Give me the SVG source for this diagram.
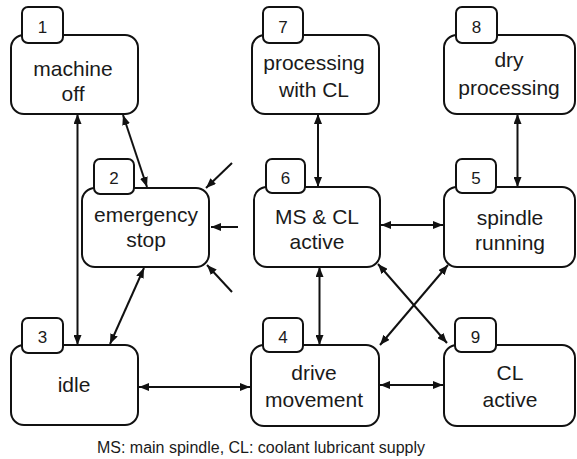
<svg xmlns="http://www.w3.org/2000/svg" width="577" height="459" viewBox="0 0 577 459">
  <defs>
    <marker id="arrow" viewBox="0 0 10 8" refX="10" refY="4" markerWidth="10" markerHeight="8" markerUnits="userSpaceOnUse" orient="auto-start-reverse">
      <path d="M0,0 L10,4 L0,8 z" fill="#111"/>
    </marker>
    <style>
      .box { fill: #fff; stroke: #111; stroke-width: 2; }
      .tab { fill: #fff; stroke: #111; stroke-width: 2; }
      .lbl { font-family: "Liberation Sans", Arial, sans-serif; font-size: 21px; fill: #1a1a1a; text-anchor: middle; }
      .num { font-family: "Liberation Sans", Arial, sans-serif; font-size: 17px; fill: #1a1a1a; text-anchor: middle; }
      .note { font-family: "Liberation Sans", Arial, sans-serif; font-size: 16px; fill: #1a1a1a; text-anchor: middle; }
      .edge { stroke: #111; stroke-width: 2; fill: none; }
      .both { marker-start: url(#arrow); marker-end: url(#arrow); }
      .one { marker-end: url(#arrow); }
    </style>
  </defs>
  <rect width="577" height="459" fill="#fff"/>

  <!-- transitions -->
  <g id="connectors">
    <line class="edge both" x1="77.5" y1="114" x2="77.5" y2="345"/>
    <line class="edge both" x1="123" y1="115" x2="147" y2="187"/>
    <line class="edge both" x1="144" y1="268" x2="110" y2="344"/>
    <line class="edge one" x1="232" y1="163" x2="206" y2="188"/>
    <line class="edge one" x1="238" y1="227" x2="211" y2="227"/>
    <line class="edge one" x1="232" y1="292" x2="207" y2="265"/>
    <line class="edge both" x1="318" y1="114" x2="318" y2="187"/>
    <line class="edge both" x1="517.5" y1="114" x2="517.5" y2="187"/>
    <line class="edge both" x1="381" y1="225" x2="443" y2="225"/>
    <line class="edge both" x1="319.5" y1="267" x2="319.5" y2="345"/>
    <line class="edge both" x1="378" y1="264" x2="447" y2="343"/>
    <line class="edge both" x1="448" y1="265" x2="380" y2="345"/>
    <line class="edge both" x1="139" y1="387" x2="250" y2="387"/>
    <line class="edge both" x1="380" y1="385" x2="443" y2="385"/>
  </g>

  <g id="n1">
    <rect class="box" x="11" y="35" width="127" height="79" rx="13"/>
    <rect class="tab" x="22" y="7" width="41" height="36" rx="6"/>
    <text class="num" x="42.5" y="33">1</text>
    <text class="lbl" x="73" y="76">machine</text>
    <text class="lbl" x="73" y="101">off</text>
  </g>
  <g id="n2">
    <rect class="box" x="82" y="188" width="127" height="79" rx="13"/>
    <rect class="tab" x="94" y="159" width="40" height="35" rx="6"/>
    <text class="num" x="114" y="184">2</text>
    <text class="lbl" x="146" y="222">emergency</text>
    <text class="lbl" x="146" y="247">stop</text>
  </g>
  <g id="n3">
    <rect class="box" x="11" y="345" width="127" height="80" rx="13"/>
    <rect class="tab" x="22" y="318" width="41" height="35" rx="6"/>
    <text class="num" x="42.5" y="343">3</text>
    <text class="lbl" x="74" y="392">idle</text>
  </g>
  <g id="n4">
    <rect class="box" x="251" y="345" width="128" height="81" rx="13"/>
    <rect class="tab" x="263" y="318" width="40" height="34" rx="6"/>
    <text class="num" x="283" y="343">4</text>
    <text class="lbl" x="314" y="380">drive</text>
    <text class="lbl" x="314" y="407">movement</text>
  </g>
  <g id="n5">
    <rect class="box" x="444" y="187" width="131" height="80" rx="13"/>
    <rect class="tab" x="456" y="159" width="40" height="34" rx="6"/>
    <text class="num" x="476" y="184">5</text>
    <text class="lbl" x="510" y="225">spindle</text>
    <text class="lbl" x="510" y="250">running</text>
  </g>
  <g id="n6">
    <rect class="box" x="254" y="187" width="126" height="80" rx="13"/>
    <rect class="tab" x="266" y="159" width="39" height="34" rx="6"/>
    <text class="num" x="285.5" y="184">6</text>
    <text class="lbl" x="317" y="224">MS &amp; CL</text>
    <text class="lbl" x="317" y="249">active</text>
  </g>
  <g id="n7">
    <rect class="box" x="252" y="35" width="127" height="79" rx="13"/>
    <rect class="tab" x="263" y="7" width="40" height="36" rx="6"/>
    <text class="num" x="283" y="33">7</text>
    <text class="lbl" x="314" y="70">processing</text>
    <text class="lbl" x="314" y="97">with CL</text>
  </g>
  <g id="n8">
    <rect class="box" x="444" y="35" width="131" height="79" rx="13"/>
    <rect class="tab" x="456" y="7" width="41" height="36" rx="6"/>
    <text class="num" x="476.5" y="33">8</text>
    <text class="lbl" x="509" y="67">dry</text>
    <text class="lbl" x="509" y="95">processing</text>
  </g>
  <g id="n9">
    <rect class="box" x="444" y="345" width="131" height="81" rx="13"/>
    <rect class="tab" x="455" y="318" width="41" height="34" rx="6"/>
    <text class="num" x="475.5" y="343">9</text>
    <text class="lbl" x="510" y="380">CL</text>
    <text class="lbl" x="510" y="407">active</text>
  </g>

  <text class="note" x="261" y="453">MS: main spindle, CL: coolant lubricant supply</text>
</svg>
